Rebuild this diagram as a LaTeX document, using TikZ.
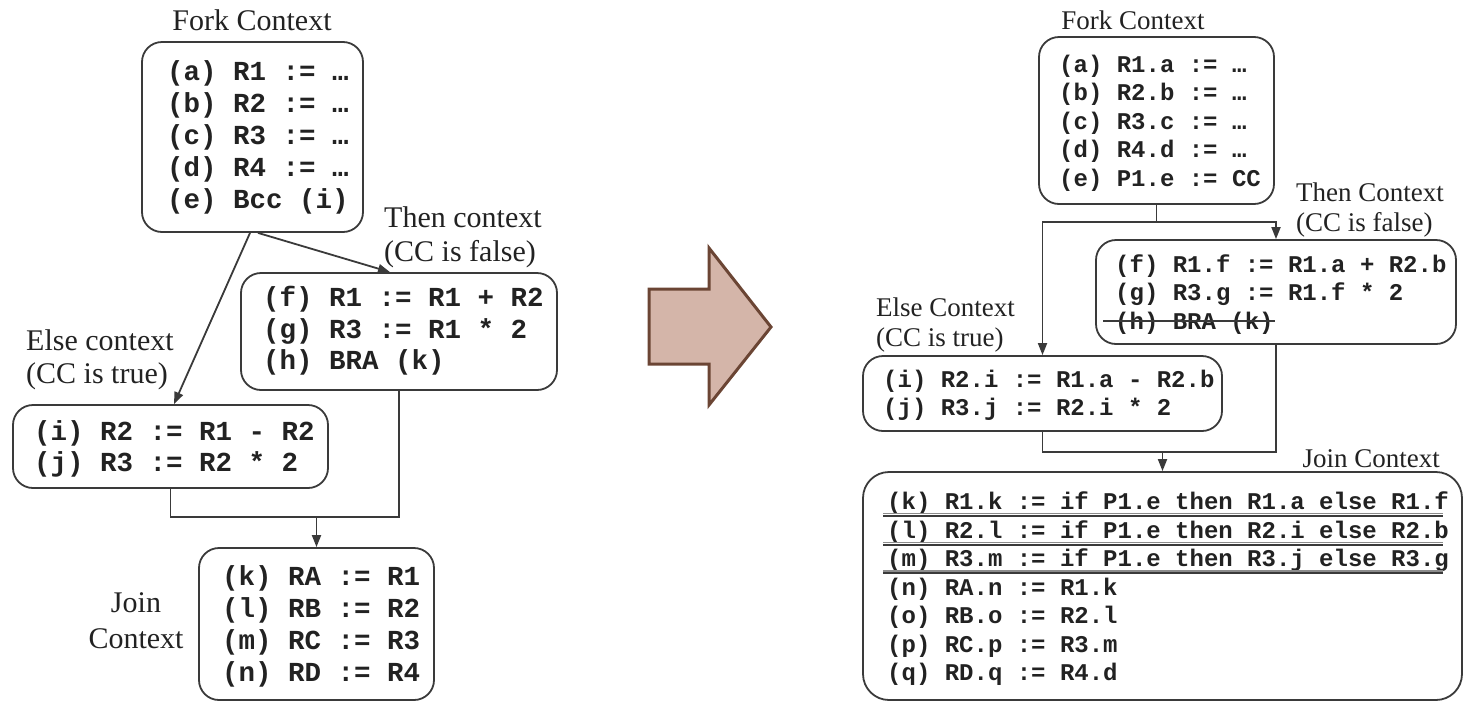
\documentclass[tikz,border=0pt]{standalone}
\usepackage{fontspec}
\setmainfont{Liberation Serif}
\newfontfamily\codefont{Liberation Mono}
\usetikzlibrary{arrows.meta}
\definecolor{ink}{HTML}{222222}
\definecolor{edge}{HTML}{3A3A3A}
\definecolor{arrowfill}{HTML}{D4B5A9}
\definecolor{arrowedge}{HTML}{6B4534}
\tikzset{
  ctxbox/.style={draw=edge, line width=1.8pt, rounded corners=20pt, inner sep=0pt},
  codeL/.style={anchor=base west, inner sep=0pt, text=ink, font=\codefont\bfseries\fontsize{27.5}{32}\selectfont},
  codeR/.style={anchor=base west, inner sep=0pt, text=ink, font=\codefont\bfseries\fontsize{24}{28}\selectfont},
  lblL/.style={inner sep=0pt, text=ink, font=\fontsize{30}{34}\selectfont},
  lblR/.style={inner sep=0pt, text=ink, font=\fontsize{27}{31}\selectfont},
  wire/.style={draw=edge, line width=1.8pt},
  flow/.style={wire, -{Triangle[length=12pt,width=9pt]}},
}
\begin{document}
\begin{tikzpicture}[x=1pt,y=-1pt]
\useasboundingbox (0,0) rectangle (1468,702);

% ---------------- original code ----------------
\node[lblL] (forkLlbl) at (252,20) {Fork Context};
\node[ctxbox, minimum width=221pt, minimum height=190pt] (forkL) at (252.5,137) {};
\node[codeL] (la) at (167,80)  {(a) R1 := …};
\node[codeL] (lb) at (167,112) {(b) R2 := …};
\node[codeL] (lc) at (167,144) {(c) R3 := …};
\node[codeL] (ld) at (167,176) {(d) R4 := …};
\node[codeL] (le) at (167,208) {(e) Bcc (i)};

\node[lblL, anchor=west] (thenLlbl1) at (384,217) {Then context};
\node[lblL, anchor=west] (thenLlbl2) at (384,254) {(CC is false)};
\node[ctxbox, minimum width=316pt, minimum height=117pt] (thenL) at (399,331.5) {};
\node[codeL] (lf) at (263,306) {(f) R1 := R1 + R2};
\node[codeL] (lg) at (263,338) {(g) R3 := R1 * 2};
\node[codeL] (lh) at (263,369) {(h) BRA (k)};

\node[lblL, anchor=west] (elseLlbl1) at (26,340) {Else context};
\node[lblL, anchor=west] (elseLlbl2) at (26,376) {(CC is true)};
\node[ctxbox, minimum width=315pt, minimum height=83pt] (elseL) at (170.5,446.5) {};
\node[codeL] (li) at (34,440) {(i) R2 := R1 - R2};
\node[codeL] (lj) at (34,471) {(j) R3 := R2 * 2};

\node[lblL] (joinLlbl1) at (136,603) {Join};
\node[lblL] (joinLlbl2) at (136,639) {Context};
\node[ctxbox, minimum width=235pt, minimum height=152pt] (joinL) at (316.5,624) {};
\node[codeL] (lk) at (222,585) {(k) RA := R1};
\node[codeL] (ll) at (222,617) {(l) RB := R2};
\node[codeL] (lm) at (222,649) {(m) RC := R3};
\node[codeL] (ln) at (222,681) {(n) RD := R4};

\draw[flow] ([xshift=5.5pt]forkL.south) -- ([xshift=-9pt]thenL.north);
\draw[flow] ([xshift=-2.5pt]forkL.south) -- ([xshift=3.5pt]elseL.north);
\coordinate (mergeL) at (316.5,517);
\draw[wire] (elseL.south) |- (mergeL) -| (thenL.south);
\draw[flow] (mergeL) -- (joinL.north);

% ---------------- transformation arrow ----------------
\draw[fill=arrowfill, draw=arrowedge, line width=3pt, line join=miter]
  (649,289) -- (709,289) -- (709,248) -- (771,327) -- (709,405) -- (709,364) -- (649,364) -- cycle;

% ---------------- renamed code ----------------
\node[lblR] (forkRlbl) at (1133,20) {Fork Context};
\node[ctxbox, minimum width=235pt, minimum height=167pt] (forkR) at (1156.5,120.5) {};
\node[codeR] (ra) at (1059,72)    {(a) R1.a := …};
\node[codeR] (rb) at (1059,100.5) {(b) R2.b := …};
\node[codeR] (rc) at (1059,129)   {(c) R3.c := …};
\node[codeR] (rd) at (1059,157.5) {(d) R4.d := …};
\node[codeR] (re) at (1059,186)   {(e) P1.e := CC};

\node[lblR, anchor=west] (thenRlbl1) at (1296,192) {Then Context};
\node[lblR, anchor=west] (thenRlbl2) at (1296,225) {(CC is false)};
\node[ctxbox, minimum width=360pt, minimum height=104pt] (thenR) at (1276,292) {};
\node[codeR] (rf) at (1115,272)   {(f) R1.f := R1.a + R2.b};
\node[codeR] (rg) at (1115,300.5) {(g) R3.g := R1.f * 2};
\node[codeR] (rh) at (1115,329)   {(h) BRA (k)};
\draw[wire, line width=1.5pt] ([xshift=-12pt,yshift=8pt]rh.base west) -- ++(172,0);

\node[lblR, anchor=west] (elseRlbl1) at (876,307) {Else Context};
\node[lblR, anchor=west] (elseRlbl2) at (876,340) {(CC is true)};
\node[ctxbox, minimum width=359pt, minimum height=75pt] (elseR) at (1042.5,393.5) {};
\node[codeR] (ri) at (883,387) {(i) R2.i := R1.a - R2.b};
\node[codeR] (rj) at (883,415) {(j) R3.j := R2.i * 2};

\node[lblR, anchor=east] (joinRlbl) at (1440,459) {Join Context};
\node[ctxbox, rounded corners=26pt, minimum width=599pt, minimum height=228pt] (joinR) at (1162.5,586) {};
\node[codeR] (rk) at (887,509)   {(k) R1.k := if P1.e then R1.a else R1.f};
\node[codeR] (rl) at (887,538)   {(l) R2.l := if P1.e then R2.i else R2.b};
\node[codeR] (rm) at (887,566.5) {(m) R3.m := if P1.e then R3.j else R3.g};
\node[codeR] (rn) at (887,595)   {(n) RA.n := R1.k};
\node[codeR] (ro) at (887,623.5) {(o) RB.o := R2.l};
\node[codeR] (rp) at (887,652)   {(p) RC.p := R3.m};
\node[codeR] (rq) at (887,680.5) {(q) RD.q := R4.d};
\foreach \r in {rk,rl,rm}{
  \draw[draw=black!45, line width=1.2pt] ([xshift=-4pt,yshift=-4.5pt]\r.base west) -- ++(560,0);
  \draw[draw=edge, line width=1.8pt] ([xshift=-4pt,yshift=-6.8pt]\r.base west) -- ++(560,0);
}

\coordinate (splitR) at (1156.5,222);
\draw[wire] (forkR.south) -- (splitR);
\draw[flow] (splitR) -| (thenR.north);
\draw[flow] (splitR) -| (elseR.north);
\coordinate (mergeR) at (1162.5,452);
\draw[wire] (elseR.south) |- (mergeR) -| (thenR.south);
\draw[flow] (mergeR) -- (joinR.north);
\end{tikzpicture}
\end{document}
